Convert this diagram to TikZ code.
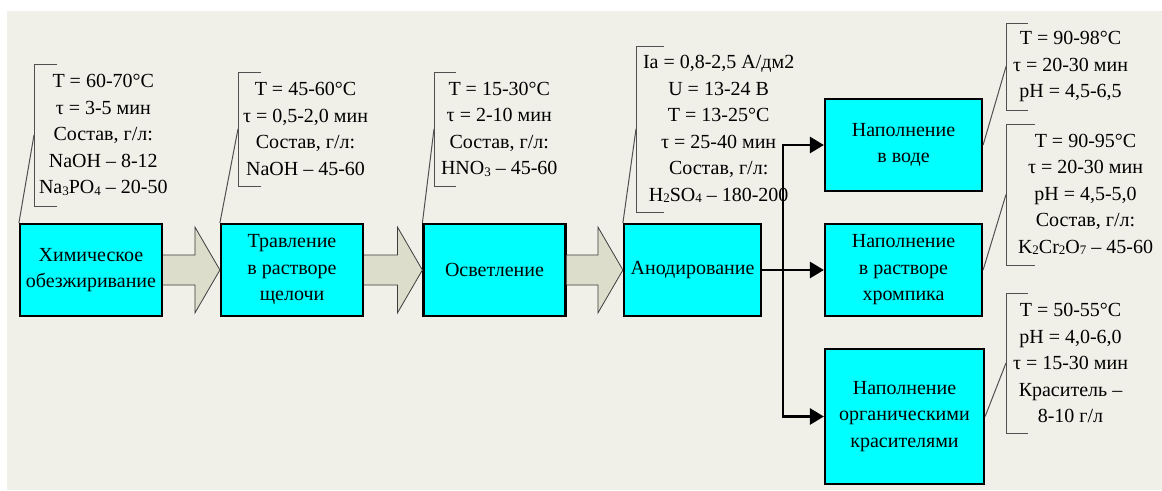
\documentclass[tikz,border=0pt]{standalone}
\usepackage{fontspec}
\setmainfont{Liberation Serif}
\usepackage{xcolor}
\definecolor{boxCyan}{HTML}{00FFFF}
\definecolor{sheetGray}{HTML}{F0F0E9}
\definecolor{flowFill}{HTML}{DCDECB}
\definecolor{flowEdge}{HTML}{3C3C3C}
\definecolor{braceGray}{HTML}{505050}
\usetikzlibrary{arrows.meta, positioning, calc}

\newcommand{\lowIdx}[1]{\raisebox{-1.5pt}{\fontsize{13}{13}\selectfont #1}}

\begin{document}
\begin{tikzpicture}[
        x=1pt, y=-1pt,
        >={Triangle[length=14pt, width=16pt]},
        procNode/.style={
            draw=black,
            fill=boxCyan,
            line width=2.2pt,
            minimum height=92pt,
            minimum width=142pt,
            align=center,
            inner sep=2pt,
            font=\fontsize{20}{26.5}\selectfont
        },
        noteNode/.style={
            anchor=west,
            align=center,
            inner xsep=5pt,
            inner ysep=0pt,
            outer sep=0pt,
            font=\fontsize{20}{26.5}\selectfont
        },
        noteLine/.style={
            braceGray,
            line width=1pt
        },
        bigArrow/.style={
            draw=flowEdge,
            fill=flowFill,
            line width=0.8pt,
            line join=miter
        },
        flowArrow/.style={
            ->,
            line width=2.8pt
        }
    ]

    % Sheet
    \fill[white] (0,0) rectangle (1162,490);
    \fill[sheetGray] (7,11) rectangle (1162,490);
    \useasboundingbox (0,0) rectangle (1162,490);

    % Process steps (explicit coordinates)
    \node[procNode] (degrease) at (91,270) {Химическое\\обезжиривание};
    \node[procNode] (etch) at (292,270) {Травление\\в растворе\\щелочи};
    \node[procNode] (brighten) at (494.5,270) {Осветление};
    \node[procNode, minimum width=137pt] (anodize) at (692.5,270) {Анодирование};

    \node[procNode, minimum width=157pt] (fillWater) at (903.5,145) {Наполнение\\в воде};
    \node[procNode, minimum width=157pt] (fillChrome) at (903.5,270) {Наполнение\\в растворе\\хромпика};
    \node[procNode, minimum width=159pt, minimum height=135pt] (fillDye) at (904.5,416.5) {Наполнение\\органическими\\красителями};

    % Process conditions
    \node[noteNode, minimum height=142pt] (degreaseNote) at (34,135)
        {T = 60-70°C\\τ = 3-5 мин\\Состав, г/л:\\NaOH – 8-12\\Na\lowIdx{3}PO\lowIdx{4} – 20-50};
    \node[noteNode, minimum height=114pt] (etchNote) at (238,129)
        {T = 45-60°C\\τ = 0,5-2,0 мин\\Состав, г/л:\\NaOH – 45-60};
    \node[noteNode, minimum height=114pt, inner xsep=7pt] (brightenNote) at (434,129)
        {T = 15-30°C\\τ = 2-10 мин\\Состав, г/л:\\HNO\lowIdx{3} – 45-60};
    \node[noteNode, minimum height=166pt, inner xsep=7pt] (anodizeNote) at (636,129)
        {Ia = 0,8-2,5 А/дм2\\U = 13-24 В\\T = 13-25°C\\τ = 25-40 мин\\Состав, г/л:\\H\lowIdx{2}SO\lowIdx{4} – 180-200};
    \node[noteNode, minimum height=87pt, inner xsep=7pt] (waterNote) at (1006,66.5)
        {T = 90-98°C\\τ = 20-30 мин\\pH = 4,5-6,5};
    \node[noteNode, minimum height=141pt, inner xsep=12pt] (chromeNote) at (1006,194.5)
        {T = 90-95°C\\τ = 20-30 мин\\pH = 4,5-5,0\\Состав, г/л:\\K\lowIdx{2}Cr\lowIdx{2}O\lowIdx{7} – 45-60};
    \node[noteNode, minimum height=140pt, inner xsep=7pt] (dyeNote) at (1006,363)
        {T = 50-55°C\\pH = 4,0-6,0\\τ = 15-30 мин\\Краситель –\\8-10 г/л};

    % Brackets and leaders
    \foreach \n/\t/\b/\a in {degreaseNote/23/degrease/north west, etchNote/23/etch/north west,
                             brightenNote/22/brighten/north west, anodizeNote/28/anodize/north west,
                             waterNote/22/fillWater/east, chromeNote/29/fillChrome/east,
                             dyeNote/22/fillDye/east} {
        \draw[noteLine] ($(\n.north west)+(\t,0)$) -- (\n.north west) -- (\n.south west) -- ++(\t,0);
        \draw[noteLine] (\n.west) -- (\b.\a);
    }

    % Block arrows between steps
    \foreach \a/\b in {degrease/etch, etch/brighten, brighten/anodize} {
        \draw[bigArrow] ($(\a.east)+(0,-15)$) -- ($(\b.west)+(-25,-15)$) -- ($(\b.west)+(-25,-43)$)
            -- (\b.west) -- ($(\b.west)+(-25,43)$) -- ($(\b.west)+(-25,15)$) -- ($(\a.east)+(0,15)$);
    }

    % Filling branches
    \coordinate (split) at (783,270);
    \draw[flowArrow] (anodize.east) -- (fillChrome.west);
    \draw[flowArrow] (split) |- (fillWater.west);
    \draw[flowArrow] (split) |- (fillDye.west);

\end{tikzpicture}
\end{document}
